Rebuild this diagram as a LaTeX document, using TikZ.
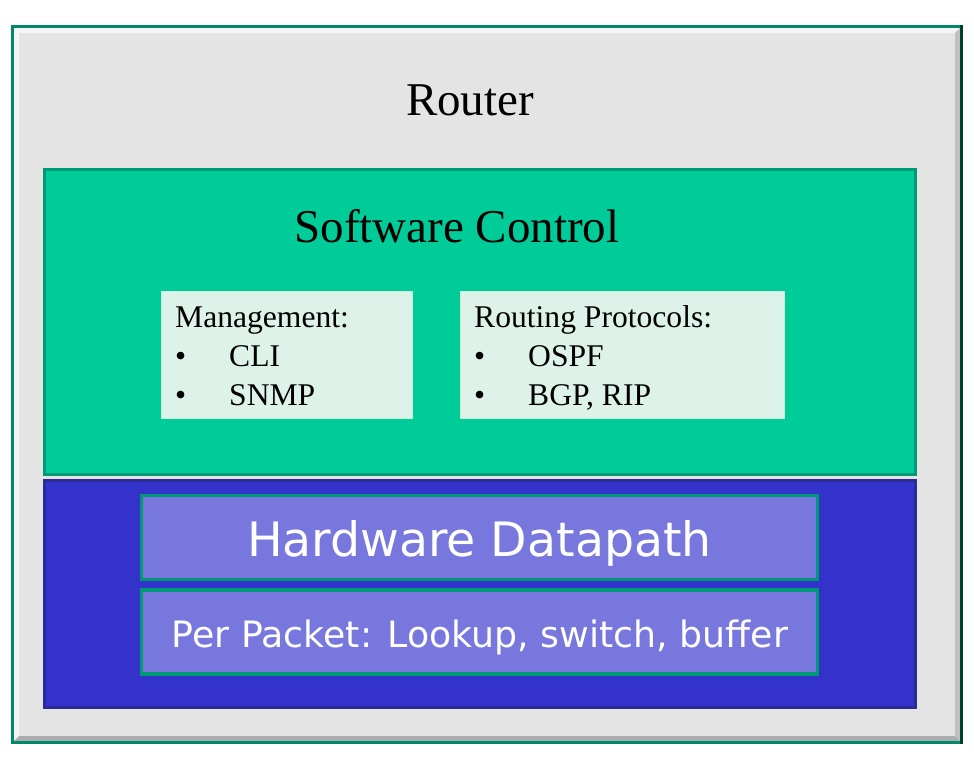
\documentclass[tikz,border=0pt]{standalone}
\usepackage{fontspec}
\setmainfont{Liberation Serif}
\newfontfamily\dejavu{DejaVu Sans}
\definecolor{framegray}{HTML}{E4E4E4}
\definecolor{framegreen}{HTML}{00886A}
\definecolor{framedark}{HTML}{00402E}
\definecolor{swgreen}{HTML}{00CC99}
\definecolor{swborder}{HTML}{009977}
\definecolor{hwblue}{HTML}{3333CC}
\definecolor{hwborder}{HTML}{2A2A99}
\definecolor{hwlight}{HTML}{7777DD}
\definecolor{listbg}{HTML}{DDF2E8}
\definecolor{listborder}{HTML}{CBEBDD}
\tikzset{
  panel/.style={rectangle, inner sep=0pt, outer sep=0pt},
  bigserif/.style={font=\fontsize{47}{56}\selectfont, inner sep=0pt, anchor=base},
  listtext/.style={font=\fontsize{31.6}{39}\selectfont, inner sep=0pt, anchor=base west},
  hwtext/.style={font=\dejavu\fontsize{47.4}{56}\selectfont, text=white, inner sep=0pt, anchor=base},
  pptext/.style={font=\dejavu\fontsize{36.3}{44}\selectfont, text=white, inner sep=0pt, anchor=base},
}
\begin{document}
\begin{tikzpicture}[x=1pt,y=-1pt]
\useasboundingbox (0,0) rectangle (974,766);
% outer frame
\fill[framegray] (12.5,26.5) rectangle (961.5,742.5);
\fill[white!60!framegray] (14,28) -- (960,28) -- (955,33) -- (19,33) -- cycle;
\fill[white!60!framegray] (14,28) -- (19,33) -- (19,736) -- (14,741) -- cycle;
\fill[black!32] (14,741) -- (19,736) -- (955,736) -- (960,741) -- cycle;
\fill[black!25] (960,28) -- (955,33) -- (955,736) -- (960,741) -- cycle;
\draw[framegreen, line width=3pt] (961.5,742.5) -- (12.5,742.5) -- (12.5,26.5) -- (961.5,26.5);
\draw[framedark, line width=3pt] (961.5,25) -- (961.5,744);
\node[bigserif] (router) at (470,115) {Router};
% software control
\node[panel, draw=swborder, fill=swgreen, line width=3pt, minimum width=871pt, minimum height=305pt, anchor=north west] (sw) at (44.5,169.5) {};
\node[bigserif] (swlabel) at (457,242) {Software Control};
\node[panel, draw=listborder, fill=listbg, line width=1.5pt, minimum width=251pt, minimum height=127pt, anchor=north west] (mgmt) at (161.5,291.5) {};
\node[listtext] (mgmtt) at (175,327) {Management:};
\node[listtext] (mgmtb1) at (175,366) {•};
\node[listtext] (mgmt1) at (229,366) {CLI};
\node[listtext] (mgmtb2) at (175,405) {•};
\node[listtext] (mgmt2) at (229,405) {SNMP};
\node[panel, draw=listborder, fill=listbg, line width=1.5pt, minimum width=324pt, minimum height=127pt, anchor=north west] (rp) at (460.5,291.5) {};
\node[listtext] (rpt) at (474,327) {Routing Protocols:};
\node[listtext] (rpb1) at (474,366) {•};
\node[listtext] (rp1) at (528,366) {OSPF};
\node[listtext] (rpb2) at (474,405) {•};
\node[listtext] (rp2) at (528,405) {BGP, RIP};
% hardware
\node[panel, draw=hwborder, fill=hwblue, line width=3pt, minimum width=871pt, minimum height=227pt, anchor=north west] (hw) at (44.5,480.5) {};
\node[panel, draw=swborder, fill=hwlight, line width=3.5pt, minimum width=676pt, minimum height=84pt, anchor=north west] (hwd) at (141.5,495.5) {};
\node[hwtext] (hwdt) at (479.5,556) {Hardware Datapath};
\node[panel, draw=swborder, fill=hwlight, line width=3.5pt, minimum width=676pt, minimum height=84pt, anchor=north west] (pp) at (141.5,590) {};
\node[pptext] (ppt) at (480,647) {Per Packet: Lookup, switch, buffer};
\end{tikzpicture}
\end{document}
